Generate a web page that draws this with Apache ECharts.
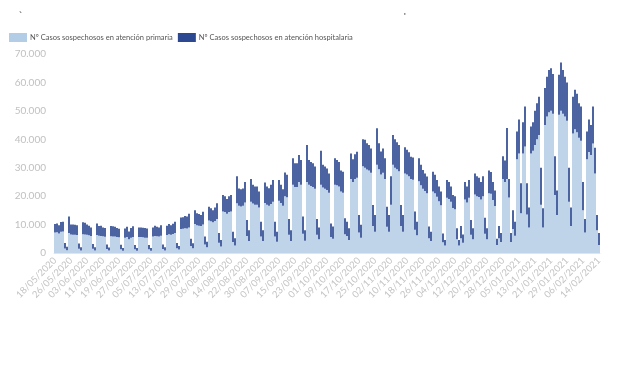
<!DOCTYPE html>
<html>
<head>
<meta charset="utf-8">
<script src="https://cdn.jsdelivr.net/npm/echarts@6/dist/echarts.min.js"></script>
<style>
html,body{margin:0;padding:0;background:#fff;}
#chart{width:620px;height:368px;}
</style>
</head>
<body>
<div id="chart"></div>
<script>
// Daily categories: 18/05/2020 .. 14/02/2021 (273 days)
const startDate = [2020, 4, 18];
const dayCount = 273;
const yTicks = [0, 10000, 20000, 30000, 40000, 50000, 60000, 70000];
const seriesNames = ['Nº Casos sospechosos en atención primaria', 'Nº Casos sospechosos en atención hospitalaria'];

// Light: atención primaria (one row per week, Mon..Sun)
const primaria = [
 7200,7300,6900,7500,7600,1600,1000,
 7000,6500,6400,6400,6300,1500,900,
 6600,6500,6400,6200,6000,1500,900,
 6300,6100,6000,5900,5700,1400,900,
 5900,5800,5800,5600,5500,1300,800,
 5400,5600,4800,5400,5600,1300,800,
 5600,5600,5500,5400,5400,1300,800,
 5800,6000,5900,5800,6100,1400,900,
 6300,6600,6400,6700,7000,1700,1200,
 8400,8500,8700,8600,9000,2500,1700,
 10200,9800,9600,9500,10000,3000,2000,
 11400,11200,10800,11300,12000,3600,2300,
 14600,14400,13800,14400,14600,3900,2600,
 17500,16600,16400,16600,17800,6000,4200,
 18000,17400,17000,17000,16000,5800,4200,
 17600,17000,16600,17200,18000,5800,4000,
 18400,17600,16600,20000,19600,6400,4200,
 24000,23200,23200,25000,24000,6800,4300,
 25000,24000,23600,23200,22600,6400,4800,
 24000,23000,22600,22200,21200,5600,5000,
 24000,23800,23400,21600,21200,6600,6000,
 4600,26000,25000,26000,26500,7200,5400,
 30500,30000,29400,29000,28200,9500,7500,
 31000,29500,27600,28200,26000,9200,7500,
 17000,31000,30000,29500,28800,9500,7500,
 28000,27600,27000,26000,25800,8200,6200,
 25200,23800,22600,21800,21000,5200,4200,
 21600,21000,19800,18200,16800,3800,2600,
 19400,19000,18000,15800,15400,4800,2600,
 5200,3600,18800,17800,19400,6400,4800,
 20600,20000,19700,18800,20000,6800,4800,
 21000,20800,18600,16500,2800,5200,3900,
 26000,25000,26000,19500,3900,8400,6100,
 33000,35000,14000,35000,37500,13500,9000,
 35000,36000,38000,40000,41500,17000,9000,
 45000,48000,49500,50000,49000,20400,13400,
 48600,50000,49000,48000,46500,18000,9500,
 42000,43500,42500,40500,39500,15000,7200,
 33000,35500,34500,38500,28000,8000,2800
];

// Dark: atención hospitalaria (one row per week, Mon..Sun)
const hospitalaria = [
 3000,3100,2900,3400,3400,1900,1200,
 5800,3500,3600,3500,3500,1800,1100,
 4200,4100,3600,3400,3000,1700,1100,
 4100,3400,3600,3100,3100,1600,1000,
 3600,3600,3400,3200,3000,1600,1000,
 3200,3600,2800,3400,3800,1500,1000,
 3400,3400,3400,3400,3200,1500,1000,
 3200,3600,3300,3200,3700,1600,1100,
 3300,3600,3400,3600,4000,1800,1300,
 4100,4100,4300,4200,4800,2500,1700,
 4800,4200,4100,3900,4500,2800,2000,
 4900,4500,4200,4700,5500,3400,2300,
 5800,5600,5200,5600,5800,3600,2600,
 9500,6100,6000,6100,7200,5600,3800,
 8000,6600,6400,6400,5600,5200,3800,
 7200,6400,6200,6800,7700,5200,3500,
 7300,6400,5800,8300,7900,5600,3800,
 9300,8400,8400,9500,8700,6000,3700,
 13000,8700,8400,8400,7800,5600,4200,
 12000,8000,7800,7500,6800,4800,4300,
 9300,8900,8600,7400,7400,5600,5000,
 4100,9000,8000,8700,9100,6200,4500,
 9500,9800,9200,9000,8600,7400,5900,
 12900,9100,8100,8600,7300,7100,5900,
 10000,10500,10000,9500,9200,7400,5900,
 9200,8700,8400,7900,7800,6400,4800,
 8100,7200,6600,6200,5900,4100,3300,
 7000,6500,5900,5200,4800,3100,2000,
 6300,6000,5400,4600,4600,3900,2000,
 4300,2900,6200,5600,6300,5200,3900,
 7400,7000,6800,6200,7000,5600,3900,
 8000,7700,6400,5500,2200,4300,3100,
 8000,7500,18000,6500,3100,6600,4900,
 9700,12000,10500,11000,14000,11000,7000,
 9500,10000,12000,12700,13500,13000,6700,
 13000,14000,14900,15000,14000,13600,8600,
 14100,17000,15400,14000,13500,12000,6500,
 13000,13900,13500,12200,12000,10000,4800,
 9700,11500,10500,13000,9000,5400,4200
];

const categories = [];
for (let i = 0; i < dayCount; i++) {
  const d = new Date(startDate[0], startDate[1], startDate[2] + i);
  const dd = String(d.getDate()).padStart(2, '0');
  const mm = String(d.getMonth() + 1).padStart(2, '0');
  categories.push(dd + '/' + mm + '/' + d.getFullYear());
}

const fmt = v => v === 0 ? '0' : String(v).replace(/\B(?=(\d{3})+(?!\d))/g, '.');

const chart = echarts.init(document.getElementById('chart'), null, {renderer: 'canvas'});
chart.setOption({
  animation: false,
  backgroundColor: '#ffffff',
  textStyle: {fontFamily: 'Lato'},
  graphic: [
    {type: 'text', left: 19, top: 12, style: {text: '`', fontSize: 10, fill: '#333'}},
    {type: 'text', left: 404, top: 12, style: {text: "'", fontSize: 9, fill: '#333'}}
  ],
  legend: {
    left: 4, top: 28,
    itemWidth: 18, itemHeight: 9, itemGap: 5,
    icon: 'rect',
    textStyle: {fontSize: 7.5, color: '#555', fontFamily: 'Lato', padding: [0, 0, 0, -2]},
    data: seriesNames
  },
  grid: {left: 54, right: 20, top: 54, bottom: 115, containLabel: false},
  xAxis: {
    type: 'category',
    data: categories,
    axisTick: {show: false},
    axisLine: {show: true, lineStyle: {color: '#e4e4e4'}},
    axisLabel: {interval: 7, rotate: 45, fontSize: 9.5, color: '#c4c4c4', margin: 6, fontFamily: 'Lato'}
  },
  yAxis: {
    type: 'value',
    min: yTicks[0], max: yTicks[yTicks.length - 1], interval: 10000,
    splitLine: {show: false},
    axisLine: {show: false},
    axisTick: {show: false},
    axisLabel: {fontSize: 10, color: '#c0c0c0', margin: 8, formatter: fmt, fontFamily: 'Lato'}
  },
  series: [
    {name: seriesNames[0], type: 'bar', stack: 'total', data: primaria,
     barCategoryGap: '15%', itemStyle: {color: '#b4cde6'}},
    {name: seriesNames[1], type: 'bar', stack: 'total', data: hospitalaria,
     barCategoryGap: '15%', itemStyle: {color: '#2c4890'}}
  ]
});
</script>
</body>
</html>
